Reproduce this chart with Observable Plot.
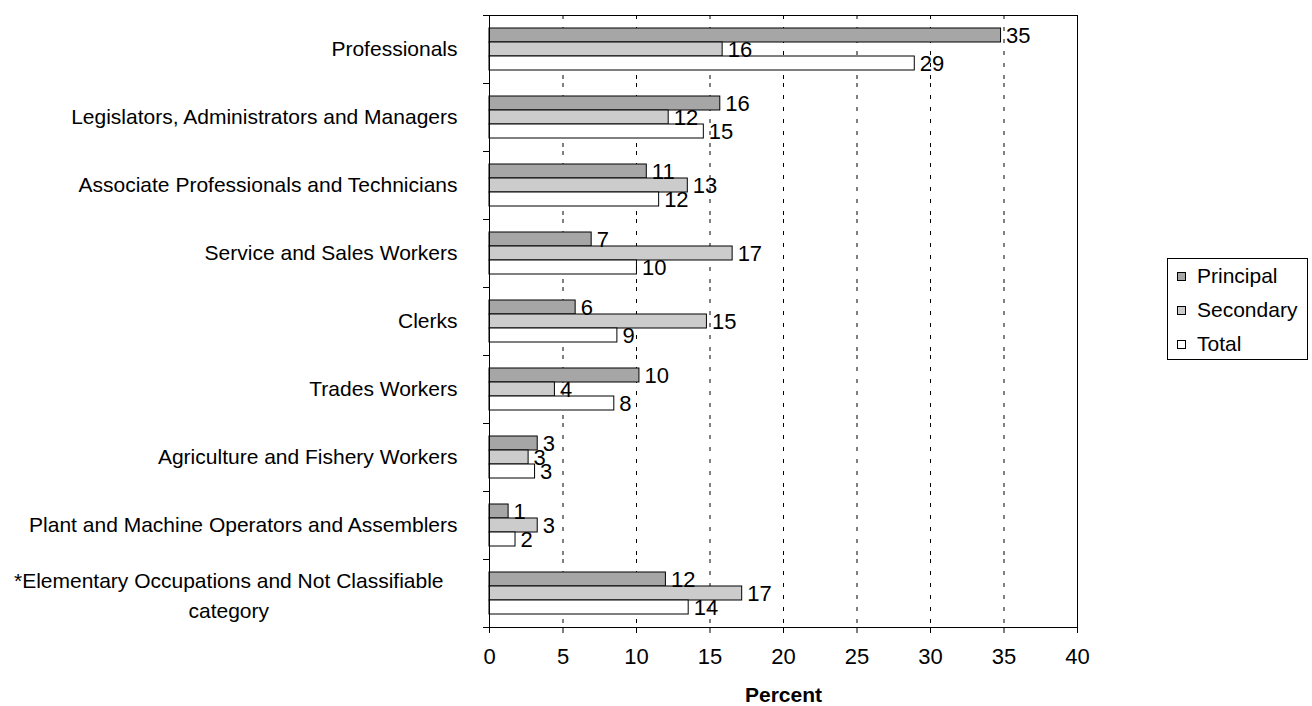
<!DOCTYPE html>
<html>
<head>
<meta charset="utf-8">
<script src="https://cdn.jsdelivr.net/npm/d3@7"></script>
<script src="https://cdn.jsdelivr.net/npm/@observablehq/plot@0.6"></script>
<style>
  html, body { margin: 0; padding: 0; background: #fff; }
  body { font-family: "Liberation Sans", Arial, sans-serif; }
  #wrap { position: relative; width: 1312px; height: 706px; }
  #legend { position: absolute; left: 1167px; top: 258px; width: 139px; height: 100px;
            border: 1px solid #000; font-size: 21px; color: #000; }
  #legend .row { position: absolute; left: 9px; height: 34px; display: flex; align-items: center; }
  #legend .sw { width: 7px; height: 7px; border: 1px solid #000; margin-right: 11px; }
</style>
</head>
<body>
<div id="wrap"><div id="chart"></div><div id="legend"></div></div>
<script>
// ---- data ----
const categories = [
  "Professionals",
  "Legislators, Administrators and Managers",
  "Associate Professionals and Technicians",
  "Service and Sales Workers",
  "Clerks",
  "Trades Workers",
  "Agriculture and Fishery Workers",
  "Plant and Machine Operators and Assemblers",
  "*Elementary Occupations and Not Classifiable\ncategory"
];
const seriesNames = ["Principal", "Secondary", "Total"];
const principal = [34.8, 15.7, 10.7, 6.95, 5.86, 10.2, 3.28, 1.3, 12.0];
const secondary = [15.86, 12.19, 13.49, 16.54, 14.79, 4.45, 2.66, 3.28, 17.19];
const total = [28.93, 14.58, 11.54, 10.03, 8.7, 8.49, 3.1, 1.77, 13.55];
const xTicks = [0, 5, 10, 15, 20, 25, 30, 35, 40];
const gridTicks = [5, 10, 15, 20, 25, 30, 35];
const seriesColors = ["#a6a6a6", "#cccccc", "#ffffff"];
const xLabel = "Percent";

// ---- layout ----
const W = 1312, H = 706;
const mL = 489, mR = 235, mT = 15, mB = 79;
const plotW = W - mL - mR;
const FONT = 21;

const valuesBySeries = [principal, secondary, total];
const rows = [];
categories.forEach((c, i) => seriesNames.forEach((s, j) => rows.push({category: c, series: s, value: valuesBySeries[j][i]})));

const single = categories.filter(c => !c.includes("\n"));
const multi = categories.filter(c => c.includes("\n"));
const ctx = document.createElement("canvas").getContext("2d");
ctx.font = `${FONT}px "Liberation Sans"`;
const multiW = d3.max(multi.flatMap(c => c.split("\n")), l => ctx.measureText(l).width) || 0;

const labelGap = 32;

const chart = Plot.plot({
  width: W, height: H,
  marginLeft: mL, marginRight: mR, marginTop: mT, marginBottom: mB,
  style: {fontFamily: '"Liberation Sans", Arial, sans-serif', fontSize: FONT + "px", color: "#000", background: "#fff"},
  fy: {domain: categories, paddingInner: 0, paddingOuter: 0, axis: null},
  y: {domain: seriesNames, paddingInner: 0, paddingOuter: 0.85, axis: null},
  x: {domain: [0, 40], axis: null},
  color: {domain: seriesNames, range: seriesColors},
  marks: [
    Plot.ruleX(gridTicks, {stroke: "#000", strokeDasharray: "4,8", strokeWidth: 1}),
    Plot.barX(rows, {fy: "category", y: "series", x: "value", fill: "series", stroke: "#000", strokeWidth: 1}),
    Plot.text(rows, {fy: "category", y: "series", x: "value", text: d => String(Math.round(d.value)), textAnchor: "start", dx: 5, fontSize: 22, fill: "#000"}),
    Plot.frame({anchor: "left"}),
    Plot.frame({anchor: "right"}),
    Plot.frame({anchor: "top", facetAnchor: "top"}),
    Plot.frame({anchor: "bottom", facetAnchor: "bottom"}),
    Plot.frame({anchor: "top", insetLeft: -6, insetRight: plotW}),
    Plot.frame({anchor: "bottom", insetLeft: -6, insetRight: plotW, facetAnchor: "bottom"}),
    Plot.text(single, {fy: d => d, text: d => d, frameAnchor: "left", textAnchor: "end", dx: -labelGap, fill: "#000"}),
    Plot.text(multi, {fy: d => d, text: d => d, frameAnchor: "left", textAnchor: "middle", dx: -(labelGap + 14) - multiW / 2, lineHeight: 1.4, fill: "#000"}),
    Plot.axisX(xTicks, {tickSize: 6, tickPadding: 15, fontSize: 22, label: null}),
    Plot.text([xLabel], {facet: "super", frameAnchor: "bottom", dy: 68, lineAnchor: "middle", fontWeight: "bold", fill: "#000"})
  ]
});
document.getElementById("chart").appendChild(chart);

// ---- legend ----
const legend = d3.select("#legend");
seriesNames.forEach((s, i) => {
  const row = legend.append("div").attr("class", "row").style("top", (i * 34) + "px");
  row.append("div").attr("class", "sw").style("background", seriesColors[i]);
  row.append("span").text(s);
});
</script>
</body>
</html>
